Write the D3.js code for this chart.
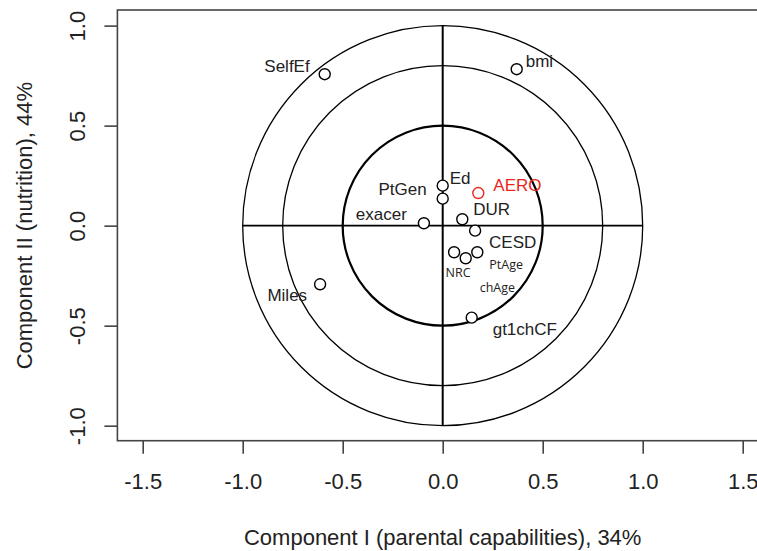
<!DOCTYPE html>
<html>
<head>
<meta charset="utf-8">
<script src="https://cdn.jsdelivr.net/npm/d3@7"></script>
<style>
  body { margin: 0; background: #fff; }
  svg { display: block; overflow: hidden; }
  text { font-family: "Liberation Sans", Arial, sans-serif; }
</style>
</head>
<body>
<svg id="chart"></svg>
<script>
// variable loadings on the two components
var names = ["SelfEf", "bmi", "Ed", "PtGen", "AERO", "DUR", "exacer", "CESD", "PtAge", "NRC", "chAge", "gt1chCF", "Miles"];
var comp1 = [-0.59, 0.37, 0.0, 0.0, 0.178, 0.098, -0.094, 0.162, 0.173, 0.057, 0.115, 0.145, -0.613];
var comp2 = [0.757, 0.782, 0.20, 0.135, 0.163, 0.032, 0.012, -0.025, -0.133, -0.133, -0.163, -0.46, -0.293];

// reference circles and ticks
var radii = [1.0, 0.8, 0.5];
var xTicks = [-1.5, -1.0, -0.5, 0.0, 0.5, 1.0, 1.5];
var yTicks = [-1.0, -0.5, 0.0, 0.5, 1.0];

// label placement: [dx, dy, anchor, small font]
var labelPlace = {
	SelfEf: [-15, -8, "end", false],
	bmi: [9, -8, "start", false],
	Ed: [7, -8, "start", false],
	PtGen: [-16, -10, "end", false],
	AERO: [15, -8, "start", false],
	DUR: [11, -10, "start", false],
	exacer: [-17, -9, "end", false],
	CESD: [14, 11, "start", false],
	PtAge: [12, 12, "start", true],
	NRC: [4, 20, "middle", true],
	chAge: [14, 29, "start", true],
	gt1chCF: [21, 11, "start", false],
	Miles: [-13, 11, "end", false]
};

var W = 757, H = 551;
var svg = d3.select("#chart").attr("width", W).attr("height", H);

// 200 px per unit on both axes (aspect 1)
var x = d3.scaleLinear().domain([-1.6265, 1.6265]).range([117.4, 768]);
var y = d3.scaleLinear().domain([-1.075, 1.078]).range([440.7, 10]);

var axisCol = "#444";

// plot box
svg.append("rect")
	.attr("x", x.range()[0]).attr("y", y.range()[1])
	.attr("width", x.range()[1] - x.range()[0])
	.attr("height", y.range()[0] - y.range()[1])
	.attr("fill", "none").attr("stroke", axisCol).attr("stroke-width", 1.6);

// x axis
var xaxis = d3.axisBottom(x).tickValues(xTicks).tickFormat(d3.format(".1f")).tickSize(13).tickPadding(20);
var gx = svg.append("g").attr("transform", "translate(0," + y.range()[0] + ")").call(xaxis);
gx.select(".domain").remove();
gx.selectAll("line").attr("stroke", axisCol).attr("stroke-width", 1.6);
gx.selectAll("text").attr("font-size", 22).attr("fill", "#222")
	.text(function(d) { return d3.format(".1f")(d).replace("\u2212", "-"); });

// y axis (rotated labels like R)
var yaxis = d3.axisLeft(y).tickValues(yTicks).tickSize(13);
var gy = svg.append("g").attr("transform", "translate(" + x.range()[0] + ",0)").call(yaxis);
gy.select(".domain").remove();
gy.selectAll("line").attr("stroke", axisCol).attr("stroke-width", 1.6);
gy.selectAll("text").remove();
gy.selectAll(".tick").append("text")
	.attr("transform", "translate(-32,0) rotate(-90)")
	.attr("text-anchor", "middle")
	.attr("font-size", 22).attr("fill", "#222")
	.text(function(d) { return d3.format(".1f")(d).replace("\u2212", "-"); });

// axis titles
svg.append("text")
	.attr("x", x(0)).attr("y", 545)
	.attr("text-anchor", "middle").attr("font-size", 22).attr("fill", "#222")
	.text("Component I (parental capabilities), 34%");

svg.append("text")
	.attr("transform", "translate(32," + y(0) + ") rotate(-90)")
	.attr("text-anchor", "middle").attr("font-size", 22).attr("fill", "#222")
	.text("Component II (nutrition), 44%");

// correlation circles
svg.selectAll("circle.ref").data(radii).enter().append("circle")
	.attr("class", "ref")
	.attr("cx", x(0)).attr("cy", y(0))
	.attr("r", function(d) { return x(d) - x(0); })
	.attr("fill", "none").attr("stroke", "#000")
	.attr("stroke-width", function(d) { return d === 0.5 ? 2.2 : 1.3; });

// cross lines
svg.append("line")
	.attr("x1", x(-1)).attr("x2", x(1)).attr("y1", y(0)).attr("y2", y(0))
	.attr("stroke", "#000").attr("stroke-width", 1.6);
svg.append("line")
	.attr("x1", x(0)).attr("x2", x(0)).attr("y1", y(-1)).attr("y2", y(1))
	.attr("stroke", "#000").attr("stroke-width", 2);

// points
var pts = names.map(function(n, i) { return { name: n, c1: comp1[i], c2: comp2[i] }; });

svg.selectAll("circle.pt").data(pts).enter().append("circle")
	.attr("class", "pt")
	.attr("cx", function(d) { return x(d.c1); })
	.attr("cy", function(d) { return y(d.c2); })
	.attr("r", 5.5)
	.attr("fill", "#fff")
	.attr("stroke", function(d) { return d.name === "AERO" ? "#e8261e" : "#000"; })
	.attr("stroke-width", 1.4);

svg.selectAll("text.lab").data(pts).enter().append("text")
	.attr("class", "lab")
	.attr("x", function(d) { return x(d.c1) + labelPlace[d.name][0]; })
	.attr("y", function(d) { return y(d.c2) + labelPlace[d.name][1]; })
	.attr("dy", "0.36em")
	.attr("text-anchor", function(d) { return labelPlace[d.name][2]; })
	.attr("font-size", function(d) { return labelPlace[d.name][3] ? 12.5 : 17; })
	.style("font-family", function(d) { return labelPlace[d.name][3] ? "'Open Sans', sans-serif" : null; })
	.attr("fill", function(d) { return d.name === "AERO" ? "#e8261e" : "#222"; })
	.text(function(d) { return d.name; });
</script>
</body>
</html>
